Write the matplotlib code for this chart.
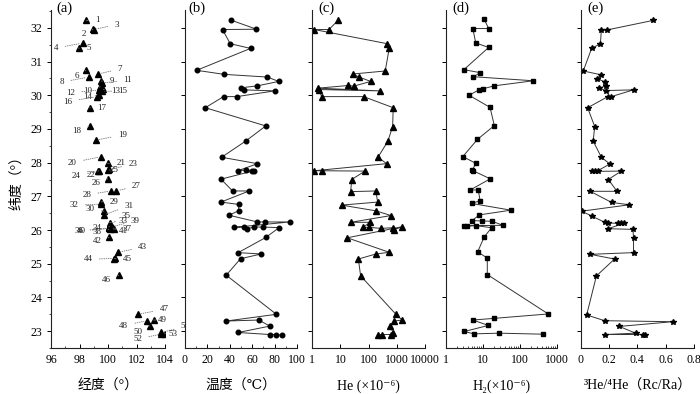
import matplotlib
matplotlib.use("Agg")
import matplotlib.pyplot as plt
from matplotlib.ticker import MultipleLocator, FixedLocator, NullFormatter, LogLocator

plt.rcParams['font.family'] = ['Liberation Serif', 'DejaVu Serif', 'Noto Sans CJK SC']

# ---- data ----
# (a) sample sites: longitude / latitude
site_id = list(range(1, 54))
site_lon = [98.49, 98.98, 99.00, 98.25, 97.93, 98.49, 99.29, 98.66, 99.54, 99.45,
            99.56, 99.40, 99.62, 99.35, 99.58, 99.22, 98.73, 98.73, 99.17, 99.54,
            99.98, 99.35, 100.05, 99.33, 100.03, 99.98, 100.59, 100.19, 99.54, 99.71,
            99.71, 99.52, 100.12, 100.10, 100.15, 100.05, 100.35, 100.12, 100.30, 100.08,
            100.40, 100.08, 100.69, 100.49, 100.45, 100.76, 102.10, 102.71, 103.20, 102.93,
            103.75, 103.69, 103.98]
site_lat = [32.22, 31.96, 31.95, 31.55, 31.40, 30.75, 30.63, 30.54, 30.42, 30.25,
            30.36, 30.16, 30.18, 30.00, 30.12, 29.96, 29.63, 29.09, 28.67, 28.18,
            27.98, 27.76, 27.80, 27.75, 27.78, 27.52, 27.16, 27.16, 26.84, 26.56,
            26.45, 26.77, 26.22, 26.10, 26.18, 26.06, 26.06, 26.03, 26.10, 26.05,
            26.03, 25.78, 25.34, 25.16, 25.15, 24.66, 23.50, 23.31, 23.33, 23.16,
            22.96, 22.91, 22.93]

# (b) temperature
temp_lat = [32.23, 31.96, 31.95, 31.53, 31.39, 30.74, 30.62, 30.54, 30.41, 30.28,
            30.22, 30.16, 30.13, 29.96, 29.96, 29.63, 29.09, 28.65, 28.16, 27.97,
            27.76, 27.78, 27.76, 27.76, 27.51, 27.16, 27.16, 26.83, 26.76, 26.57,
            26.44, 26.24, 26.24, 26.24, 26.08, 26.09, 26.04, 26.09, 26.09, 26.07,
            25.78, 25.33, 25.29, 25.15, 24.66, 23.50, 23.30, 23.33, 23.15, 22.96,
            22.90, 22.90, 22.88]
temp_val = [41, 63.8, 33.5, 40.4, 58.5, 10.4, 35, 73.6, 83.7, 64.7,
            49.9, 52.8, 80.1, 46.3, 34.4, 18.1, 72.1, 54.6, 32.7, 64.7,
            47.2, 54.9, 60.0, 61.5, 32.1, 42.5, 57.3, 32.1, 48.1, 47.8,
            39.2, 64.7, 71.2, 93.5, 43.6, 52.8, 55.5, 61.7, 69.7, 84.0,
            72.1, 47.5, 68.0, 49.6, 36.8, 81.6, 36.8, 65.9, 75.7, 47.5,
            75.7, 81.0, 87.0]

# (c) He (x10^-6)
he_lat = [32.23, 31.95, 31.95, 31.53, 31.39, 30.72, 30.63, 30.54, 30.41, 30.27,
          30.29, 30.21, 30.13, 30.17, 29.96, 29.96, 29.63, 29.07, 28.64, 28.16,
          27.97, 27.76, 27.76, 27.75, 27.50, 27.14, 27.16, 26.83, 26.74, 26.57,
          26.43, 26.23, 26.23, 26.08, 26.08, 26.05, 26.07, 26.01, 26.10, 25.77,
          25.34, 25.29, 25.14, 24.64, 23.50, 23.33, 23.30, 23.15, 22.95, 22.90,
          22.90, 22.88]
he_val = [8.4, 3.9, 1.18, 457, 537, 387, 27, 46, 118, 29.5,
          19, 1.6, 245, 1.7, 2.15, 66, 745, 709, 482, 215,
          435, 1.18, 2.15, 74, 25, 23, 181, 208, 11, 181,
          620, 23, 111, 64, 102, 274, 745, 810, 1550, 17.4,
          537, 181, 43, 52, 930, 1550, 810, 570, 745, 620,
          290, 208]

# (d) H2 (x10^-6)
h2_lat = [32.27, 31.98, 31.98, 31.55, 31.42, 30.76, 30.67, 30.55, 30.43, 30.28,
          30.19, 30.16, 30.00, 29.64, 29.10, 28.69, 28.18, 27.98, 27.77, 27.76,
          27.52, 27.19, 27.19, 26.87, 26.79, 26.59, 26.45, 26.28, 26.27, 26.26,
          26.14, 26.13, 26.12, 26.13, 26.07, 25.80, 25.35, 25.17, 24.68, 23.51,
          23.38, 23.33, 23.17, 22.99, 22.92, 22.94, 22.91]
h2_val = [10.8, 14.5, 5.4, 6.5, 14.5, 3.1, 8.6, 5.6, 233, 20.6,
          10, 7.9, 4.3, 15.8, 20.6, 7.2, 2.9, 6.5, 5.2, 5.5,
          16, 4.6, 7.6, 8.5, 5.0, 58, 8.1, 5.2, 9.4, 18.2,
          35, 3.2, 3.7, 6.6, 17.5, 11, 7.3, 13.3, 13.3, 590,
          20.6, 5.4, 14.2, 3.2, 5.8, 28, 420]

# (e) 3He/4He (Rc/Ra)
ratio_lat = [32.22, 31.94, 31.94, 31.53, 31.39, 30.72, 30.61, 30.49, 30.40, 30.28,
             30.21, 30.14, 30.16, 29.96, 29.96, 29.63, 29.07, 28.64, 28.16, 27.96,
             27.76, 27.75, 27.74, 27.75, 27.50, 27.15, 27.15, 26.82, 26.75, 26.56,
             26.41, 26.23, 26.21, 26.20, 26.20, 26.20, 26.04, 26.02, 25.77, 25.33,
             25.28, 25.14, 24.64, 23.48, 23.31, 23.28, 23.14, 22.94, 22.90, 22.90,
             22.89]
ratio_val = [0.51, 0.188, 0.146, 0.139, 0.077, 0.018, 0.141, 0.118, 0.169, 0.181,
             0.129, 0.181, 0.373, 0.216, 0.192, 0.049, 0.099, 0.088, 0.146, 0.206,
             0.12, 0.10, 0.077, 0.287, 0.195, 0.257, 0.067, 0.218, 0.343, 0.007,
             0.081, 0.169, 0.192, 0.262, 0.285, 0.308, 0.192, 0.369, 0.373, 0.373,
             0.067, 0.239, 0.111, 0.042, 0.169, 0.649, 0.273, 0.387, 0.174, 0.44,
             0.452]

# ---- layout ----
# label offsets for the site numbers in (a), in pixels (x right, y up)
label_off = {1: (11, 0), 2: (-10, -5), 3: (23, 5), 4: (-27, -5), 5: (10, 0),
             6: (-10, -6), 7: (22, 5), 8: (-27, -5), 9: (10, 0), 10: (-12, -4),
             11: (26, 3), 12: (-29, -3), 13: (13, -2), 14: (-11, -2), 15: (21, 0),
             16: (-29, -5), 17: (12, 0), 18: (-13, -5), 19: (26, 5), 20: (-29, -6),
             21: (13, 0), 22: (-8, -4), 23: (24, 5), 24: (-22, -5), 25: (6, 0),
             26: (-12, -4), 27: (20, 5), 28: (-24, -4), 29: (13, 0), 30: (-14, 2),
             31: (25, 9), 32: (-27, -1), 33: (13, 2), 34: (-12, -1), 35: (16, 8),
             36: (-30, -3), 37: (14, -1), 38: (-13, -3), 39: (23, 6), 40: (-28, -3),
             41: (10, -2), 42: (-12, -4), 43: (25, 5), 44: (-27, -1), 45: (13, 0),
             46: (-12, -5), 47: (26, 5), 48: (-23, -5), 49: (9, 0), 50: (-12, -6),
             51: (24, 6), 52: (-23, -5), 53: (8, 0)}
solid_leader = {1, 5, 9, 17, 21, 29, 33, 45, 49}

W, H = 700, 394
y_bot, y_top = 348, 10
panels_px = [(51, 165), (185, 297), (312.3, 425), (445.7, 556.7), (580.7, 694)]
lat_lim = (22.5, 32.53)
line_c = '#333333'

fig = plt.figure(figsize=(7, 3.94), dpi=100)
axes = []
for x0, x1 in panels_px:
    ax = fig.add_axes([x0 / W, 1 - y_bot / H, (x1 - x0) / W, (y_bot - y_top) / H])
    ax.set_ylim(*lat_lim)
    ax.spines['top'].set_visible(False)
    ax.spines['right'].set_visible(False)
    for s in ('left', 'bottom'):
        ax.spines[s].set_linewidth(0.8)
        ax.spines[s].set_color('#222222')
    ax.yaxis.set_major_locator(MultipleLocator(1))
    ax.tick_params(axis='y', which='major', direction='out', length=3, width=0.7)
    ax.tick_params(axis='x', which='major', direction='in', length=3, width=0.7,
                   labelsize=8.5, pad=4)
    ax.tick_params(axis='x', which='minor', direction='in', length=1.8, width=0.5)
    ax.set_yticklabels([])
    axes.append(ax)

ax_a, ax_b, ax_c, ax_d, ax_e = axes

# (a)
ax_a.plot(site_lon, site_lat, linestyle='none', marker='^', color='black', ms=4.2)
for sid, lo, la in zip(site_id, site_lon, site_lat):
    dx, dy = label_off[sid]
    ls = '-' if sid in solid_leader else ':'
    ax_a.annotate(str(sid), (lo, la), xytext=(dx, dy), textcoords='offset pixels',
                  ha='center', va='center', fontsize=6.5, color='#222222',
                  annotation_clip=False,
                  arrowprops=dict(arrowstyle='-', linestyle=ls, color='#777777',
                                  lw=0.6, shrinkA=3, shrinkB=2))
ax_a.set_xlim(96, 104)
ax_a.xaxis.set_major_locator(MultipleLocator(2))
ax_a.xaxis.set_minor_locator(MultipleLocator(1))
ax_a.yaxis.set_minor_locator(MultipleLocator(0.5))
ax_a.yaxis.set_major_formatter(plt.FormatStrFormatter('%d'))
ax_a.tick_params(axis='y', which='major', labelsize=8.5, labelleft=True)
ax_a.tick_params(axis='y', which='minor', direction='out', length=1.8, width=0.5)
ax_a.set_ylabel('纬度（°）', fontsize=10, labelpad=5)
ax_a.set_xlabel('经度（°）', fontsize=10, labelpad=10)

# (b)
ax_b.plot(temp_val, temp_lat, color=line_c, lw=0.7, marker='o', ms=3.3,
          mfc='black', mec='black')
ax_b.set_xlim(0, 100)
ax_b.xaxis.set_major_locator(MultipleLocator(20))
ax_b.xaxis.set_minor_locator(MultipleLocator(10))
ax_b.set_xlabel('温度（℃）', fontsize=10, labelpad=10)

# (c)
ax_c.plot(he_val, he_lat, color=line_c, lw=0.7, marker='^', ms=3.8,
          mfc='black', mec='black')
ax_c.set_xscale('log')
ax_c.set_xlim(1, 10000)
ax_c.xaxis.set_major_locator(FixedLocator([1, 10, 100, 1000, 10000]))
ax_c.set_xticklabels(['1', '10', '100', '1000', '10000'])
ax_c.xaxis.set_minor_locator(LogLocator(base=10, subs=range(2, 10)))
ax_c.xaxis.set_minor_formatter(NullFormatter())
ax_c.set_xlabel('He (×10⁻⁶)', fontsize=10, labelpad=10)

# (d)
ax_d.plot(h2_val, h2_lat, color=line_c, lw=0.7, marker='s', ms=2.8,
          mfc='black', mec='black')
ax_d.set_xscale('log')
ax_d.set_xlim(1, 1000)
ax_d.xaxis.set_major_locator(FixedLocator([1, 10, 100, 1000]))
ax_d.set_xticklabels(['1', '10', '100', '1000'])
ax_d.xaxis.set_minor_locator(LogLocator(base=10, subs=range(2, 10)))
ax_d.xaxis.set_minor_formatter(NullFormatter())
ax_d.set_xlabel('H₂(×10⁻⁶)', fontsize=10, labelpad=10)

# (e)
ax_e.plot(ratio_val, ratio_lat, color=line_c, lw=0.7, marker='*', ms=4.2,
          mfc='black', mec='black')
ax_e.set_xlim(0, 0.8)
ax_e.xaxis.set_major_locator(MultipleLocator(0.2))
ax_e.xaxis.set_major_formatter(plt.FuncFormatter(lambda v, p: '0' if v == 0 else f'{v:.1f}'))
ax_e.set_xlabel('³He/⁴He（Rc/Ra）', fontsize=10, labelpad=10)

for ax, tag, xf in zip(axes, 'abcde', [0.05, 0.03, 0.05, 0.06, 0.055]):
    ax.text(xf, 1.025, f'({tag})', transform=ax.transAxes, ha='left', va='top',
            fontsize=10.5)

fig.savefig('out.png', dpi=100)
